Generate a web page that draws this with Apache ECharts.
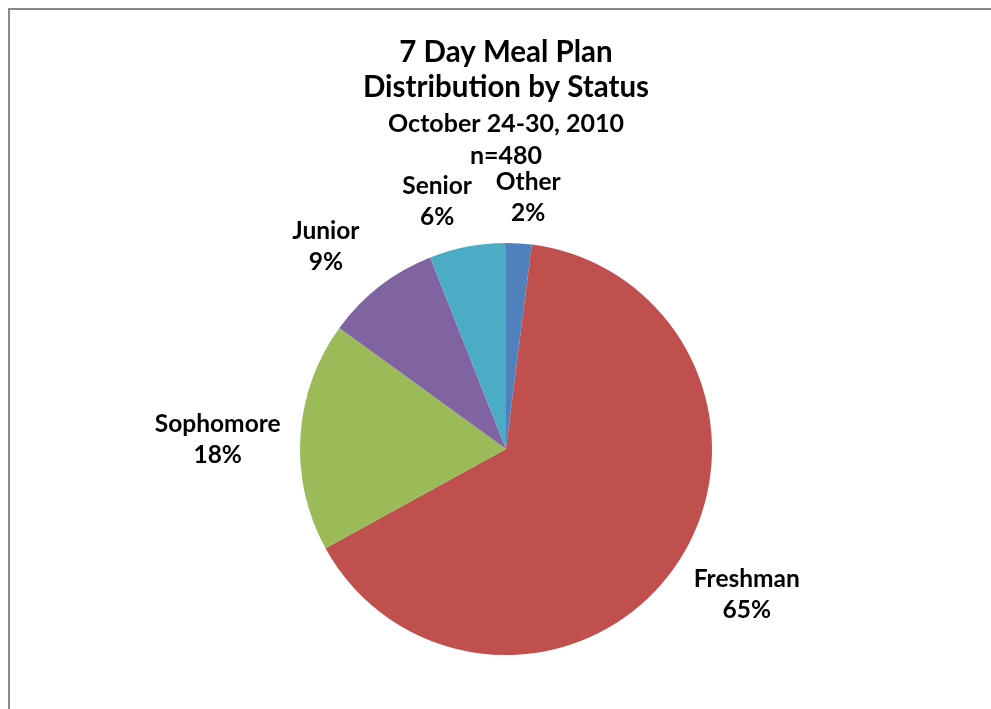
<!DOCTYPE html>
<html>
<head>
<meta charset="utf-8">
<script src="https://cdn.jsdelivr.net/npm/echarts@6/dist/echarts.min.js"></script>
<style>
  html, body { margin: 0; padding: 0; background: #ffffff; }
  #chart { width: 991px; height: 709px; }
</style>
</head>
<body>
<div id="chart"></div>
<script>
// Meal plan holders by class status (percent of n=480), clockwise from 12 o'clock
const categories = ['Other', 'Freshman', 'Sophomore', 'Junior', 'Senior'];
const percents = [2, 65, 18, 9, 6];
const sliceColors = ['#4F81BD', '#C0504D', '#9BBB59', '#8064A2', '#4BACC6'];
const titleLines = ['7 Day Meal Plan', 'Distribution by Status'];
const subtitleLines = ['October 24-30, 2010', 'n=480'];

const FONT = 'Lato, "Open Sans", sans-serif';
const CX = 506, CY = 449, R = 206;

// small sideways shifts so neighbouring labels near the top don't crowd each other
const labelShift = [[6, 5], [10, 1], [0, 7], [-21, 1], [-20, 5]];

const total = percents.reduce((a, b) => a + b, 0);
const midAngles = [];
let acc = 0;
percents.forEach(v => {
  midAngles.push((acc + v / 2) / total * 2 * Math.PI);
  acc += v;
});

const chart = echarts.init(document.getElementById('chart'), null, { renderer: 'canvas' });

chart.setOption({
  backgroundColor: '#ffffff',
  animation: false,
  graphic: [{
    type: 'rect',
    shape: { x: 9, y: 9, width: 1100, height: 800 },
    style: { fill: 'none', stroke: '#8a8a8a', lineWidth: 2 },
    silent: true
  }],
  title: [{
    text: titleLines.join('\n'),
    left: CX - 5,
    textAlign: 'center',
    top: 30,
    textStyle: { fontFamily: FONT, fontWeight: 'bold', fontSize: 29.5, lineHeight: 35, color: '#000' }
  }, {
    text: subtitleLines.join('\n'),
    left: CX - 5,
    textAlign: 'center',
    top: 103,
    textStyle: { fontFamily: FONT, fontWeight: 'bold', fontSize: 25, lineHeight: 32, color: '#000' }
  }],
  series: [{
    type: 'pie',
    center: [CX, CY],
    radius: R,
    startAngle: 90,
    clockwise: true,
    avoidLabelOverlap: false,
    data: categories.map((name, i) => ({ name, value: percents[i], itemStyle: { color: sliceColors[i] } })),
    label: {
      show: true,
      position: 'outside',
      formatter: p => p.name + '\n' + p.value + '%',
      fontFamily: FONT,
      fontWeight: 'bold',
      fontSize: 24.5,
      lineHeight: 31,
      color: '#000',
      align: 'center'
    },
    labelLine: { show: false },
    labelLayout: function (params) {
      const i = params.dataIndex;
      const a = midAngles[i];
      const sx = Math.sin(a), sy = -Math.cos(a);
      const w = params.labelRect.width, h = params.labelRect.height;
      const d = R + 20;
      const x = CX + d * sx + w / 2 * sx + labelShift[i][0];
      const y = CY + d * sy + h / 2 * sy + labelShift[i][1];
      return { x: x, y: y, align: 'center', verticalAlign: 'middle' };
    },
    emphasis: { disabled: true }
  }]
});
</script>
</body>
</html>
